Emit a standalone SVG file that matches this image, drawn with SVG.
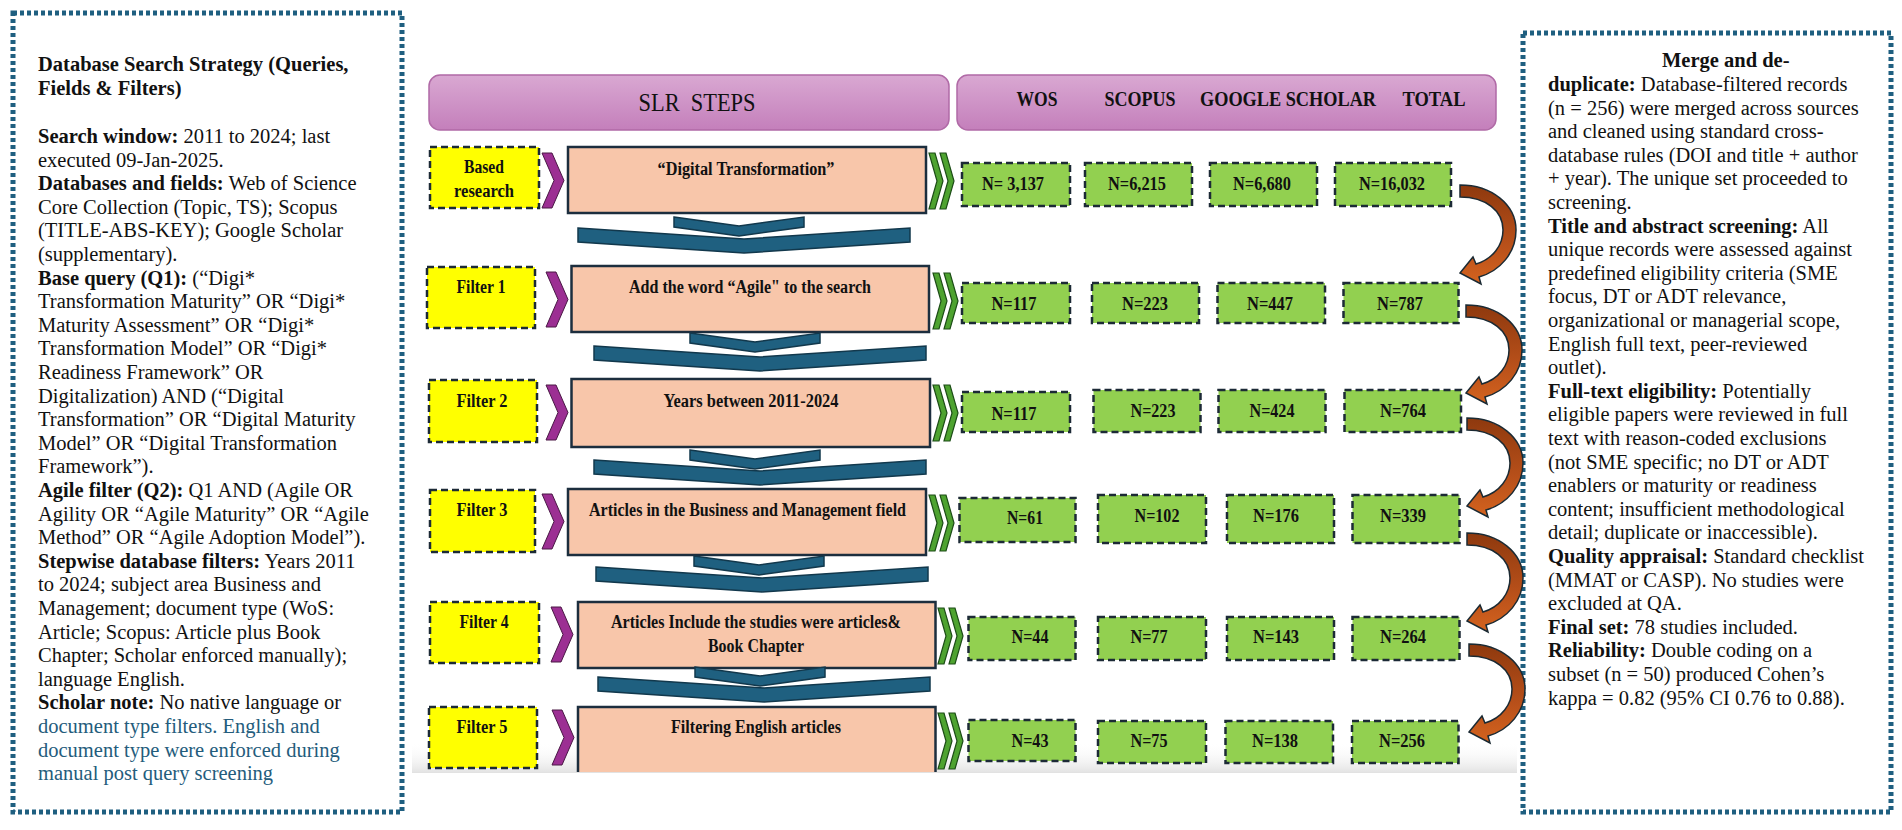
<svg xmlns="http://www.w3.org/2000/svg" xmlns:xlink="http://www.w3.org/1999/xlink" width="1902" height="830" viewBox="0 0 1902 830">
<defs>
<style>
.tx{font-family:"Liberation Serif","Times New Roman",serif;font-size:20.5px;fill:#111;}
.b{font-weight:bold;}
.teal{fill:#245c7c;}
.dot{fill:none;stroke:#1f5f80;stroke-width:5;stroke-dasharray:4 3;}
.hdr{fill:url(#hg);stroke:#b06aa6;stroke-width:1.5;}
.yel{fill:#ffff00;stroke:#1c2a36;stroke-width:2.5;stroke-dasharray:7 4;}
.grn{fill:#92d050;stroke:#1c2a36;stroke-width:2.5;stroke-dasharray:7 4;}
.sal{fill:#f8c6aa;stroke:#1c2e3e;stroke-width:2.5;}
.m{font-family:"Liberation Serif","Times New Roman",serif;font-weight:bold;fill:#111;text-anchor:middle;}
.ms{font-size:18.5px;}
.mn{font-size:19px;}
.mh{font-size:20px;}
.pch{fill:#9c2f93;stroke:#4a1845;stroke-width:1;}
.gch{fill:#4ea330;stroke:#1d4d17;stroke-width:1.2;}
.bch{fill:#1f6080;stroke:#12384c;stroke-width:1.5;}
.oar{fill:url(#og);stroke:#1b2a33;stroke-width:1.5;}
</style>
<linearGradient id="hg" x1="0" y1="0" x2="0" y2="1">
<stop offset="0" stop-color="#d9a8d2"/>
<stop offset="1" stop-color="#c47fbb"/>
</linearGradient>
<linearGradient id="og" x1="0" y1="0" x2="0" y2="1">
<stop offset="0" stop-color="#8e390e"/>
<stop offset="0.6" stop-color="#b8501a"/>
<stop offset="1" stop-color="#d4631e"/>
</linearGradient>
<linearGradient id="gb" x1="0" y1="0" x2="0" y2="1">
<stop offset="0" stop-color="#ffffff" stop-opacity="0"/>
<stop offset="1" stop-color="#e4e4e4"/>
</linearGradient>
<path id="pc" d="M0 0 H10 L22 27.5 L10 55 H0 L12 27.5 Z"/>
<path id="gc" d="M0 0 H6 L14 28 L6 56 H0 L8 28 Z M11 0 H17 L25 28 L17 56 H11 L19 28 Z"/>
<path id="bs" d="M0 0 L65 9 L130 0 L130 10 L65 19 L0 10 Z"/>
<path id="bl" d="M0 0 L166 11 L332 0 L332 14 L166 25 L0 14 Z"/>
<path id="oa" d="M0 0 C32 0 56 20 56 45 C56 68 40 86 19 92 L21 99 L0 88 L13 72 L16 79 C33 74 43 60 43 45 C43 26 26 12 0 12 Z"/>
</defs>
<rect x="0" y="0" width="1902" height="830" fill="#ffffff"/>
<rect x="412" y="742" width="1105" height="30" fill="url(#gb)"/>

<g id="left-panel">
<rect class="dot" x="13" y="13" width="389" height="799"/>
<text class="tx b" x="38" y="71">Database Search Strategy (Queries,</text>
<text class="tx b" x="38" y="94.6">Fields &amp; Filters)</text>
<text class="tx" x="38" y="143"><tspan class="b">Search window:</tspan> 2011 to 2024; last</text>
<text class="tx" x="38" y="166.6">executed 09-Jan-2025.</text>
<text class="tx" x="38" y="190.2"><tspan class="b">Databases and fields:</tspan> Web of Science</text>
<text class="tx" x="38" y="213.8">Core Collection (Topic, TS); Scopus</text>
<text class="tx" x="38" y="237.4">(TITLE-ABS-KEY); Google Scholar</text>
<text class="tx" x="38" y="261">(supplementary).</text>
<text class="tx" x="38" y="284.6"><tspan class="b">Base query (Q1):</tspan> (“Digi*</text>
<text class="tx" x="38" y="308.2">Transformation Maturity” OR “Digi*</text>
<text class="tx" x="38" y="331.8">Maturity Assessment” OR “Digi*</text>
<text class="tx" x="38" y="355.4">Transformation Model” OR “Digi*</text>
<text class="tx" x="38" y="379">Readiness Framework” OR</text>
<text class="tx" x="38" y="402.6">Digitalization) AND (“Digital</text>
<text class="tx" x="38" y="426.2">Transformation” OR “Digital Maturity</text>
<text class="tx" x="38" y="449.8">Model” OR “Digital Transformation</text>
<text class="tx" x="38" y="473.4">Framework”).</text>
<text class="tx" x="38" y="497"><tspan class="b">Agile filter (Q2):</tspan> Q1 AND (Agile OR</text>
<text class="tx" x="38" y="520.6">Agility OR “Agile Maturity” OR “Agile</text>
<text class="tx" x="38" y="544.2">Method” OR “Agile Adoption Model”).</text>
<text class="tx" x="38" y="567.8"><tspan class="b">Stepwise database filters:</tspan> Years 2011</text>
<text class="tx" x="38" y="591.4">to 2024; subject area Business and</text>
<text class="tx" x="38" y="615">Management; document type (WoS:</text>
<text class="tx" x="38" y="638.6">Article; Scopus: Article plus Book</text>
<text class="tx" x="38" y="662.2">Chapter; Scholar enforced manually);</text>
<text class="tx" x="38" y="685.8">language English.</text>
<text class="tx" x="38" y="709.4"><tspan class="b">Scholar note:</tspan> No native language or</text>
<text class="tx teal" x="38" y="733">document type filters. English and</text>
<text class="tx teal" x="38" y="756.6">document type were enforced during</text>
<text class="tx teal" x="38" y="780.2">manual post query screening</text>
</g>

<g id="right-panel">
<rect class="dot" x="1523" y="33" width="368" height="779"/>
<text class="tx b" x="1662" y="67">Merge and de-</text>
<text class="tx" x="1548" y="91"><tspan class="b">duplicate:</tspan> Database-filtered records</text>
<text class="tx" x="1548" y="114.6">(n = 256) were merged across sources</text>
<text class="tx" x="1548" y="138.2">and cleaned using standard cross-</text>
<text class="tx" x="1548" y="161.8">database rules (DOI and title + author</text>
<text class="tx" x="1548" y="185.4">+ year). The unique set proceeded to</text>
<text class="tx" x="1548" y="209">screening.</text>
<text class="tx" x="1548" y="232.6"><tspan class="b">Title and abstract screening:</tspan> All</text>
<text class="tx" x="1548" y="256.2">unique records were assessed against</text>
<text class="tx" x="1548" y="279.8">predefined eligibility criteria (SME</text>
<text class="tx" x="1548" y="303.4">focus, DT or ADT relevance,</text>
<text class="tx" x="1548" y="327">organizational or managerial scope,</text>
<text class="tx" x="1548" y="350.6">English full text, peer-reviewed</text>
<text class="tx" x="1548" y="374.2">outlet).</text>
<text class="tx" x="1548" y="397.8"><tspan class="b">Full-text eligibility:</tspan> Potentially</text>
<text class="tx" x="1548" y="421.4">eligible papers were reviewed in full</text>
<text class="tx" x="1548" y="445">text with reason-coded exclusions</text>
<text class="tx" x="1548" y="468.6">(not SME specific; no DT or ADT</text>
<text class="tx" x="1548" y="492.2">enablers or maturity or readiness</text>
<text class="tx" x="1548" y="515.8">content; insufficient methodological</text>
<text class="tx" x="1548" y="539.4">detail; duplicate or inaccessible).</text>
<text class="tx" x="1548" y="563"><tspan class="b">Quality appraisal:</tspan> Standard checklist</text>
<text class="tx" x="1548" y="586.6">(MMAT or CASP). No studies were</text>
<text class="tx" x="1548" y="610.2">excluded at QA.</text>
<text class="tx" x="1548" y="633.8"><tspan class="b">Final set:</tspan> 78 studies included.</text>
<text class="tx" x="1548" y="657.4"><tspan class="b">Reliability:</tspan> Double coding on a</text>
<text class="tx" x="1548" y="681">subset (n = 50) produced Cohen’s</text>
<text class="tx" x="1548" y="704.6">kappa = 0.82 (95% CI 0.76 to 0.88).</text>
</g>

<g id="header-steps">
<rect class="hdr" x="429" y="75" width="520" height="55" rx="11"/>
<text class="m" x="697" y="111" style="font-weight:normal;font-size:26px;white-space:pre" textLength="117" lengthAdjust="spacingAndGlyphs">SLR  STEPS</text>
</g>
<g id="header-sources">
<rect class="hdr" x="957" y="75" width="539" height="55" rx="11"/>
<text class="m mh" x="1037" y="106" textLength="41" lengthAdjust="spacingAndGlyphs">WOS</text>
<text class="m mh" x="1140" y="106" textLength="71" lengthAdjust="spacingAndGlyphs">SCOPUS</text>
<text class="m mh" x="1288" y="106" textLength="176" lengthAdjust="spacingAndGlyphs">GOOGLE SCHOLAR</text>
<text class="m mh" x="1434" y="106" textLength="63" lengthAdjust="spacingAndGlyphs">TOTAL</text>
</g>

<g id="label-based"><rect class="yel" x="430" y="147" width="109" height="61"/>
<text class="m ms" x="484" y="173" textLength="40" lengthAdjust="spacingAndGlyphs">Based</text>
<text class="m ms" x="484" y="197" textLength="60" lengthAdjust="spacingAndGlyphs">research</text></g>
<g id="label-f1"><rect class="yel" x="427" y="267" width="108" height="61"/>
<text class="m ms" x="481" y="293" textLength="49" lengthAdjust="spacingAndGlyphs">Filter 1</text></g>
<g id="label-f2"><rect class="yel" x="429" y="380" width="108" height="62"/>
<text class="m ms" x="482" y="407" textLength="51" lengthAdjust="spacingAndGlyphs">Filter 2</text></g>
<g id="label-f3"><rect class="yel" x="430" y="490" width="105" height="62"/>
<text class="m ms" x="482" y="516" textLength="51" lengthAdjust="spacingAndGlyphs">Filter 3</text></g>
<g id="label-f4"><rect class="yel" x="430" y="602" width="109" height="61"/>
<text class="m ms" x="484" y="628" textLength="49" lengthAdjust="spacingAndGlyphs">Filter 4</text></g>
<g id="label-f5"><rect class="yel" x="429" y="707" width="108" height="61"/>
<text class="m ms" x="482" y="733" textLength="51" lengthAdjust="spacingAndGlyphs">Filter 5</text></g>

<g id="step-1"><rect class="sal" x="568" y="147" width="358" height="66"/>
<text class="m ms" x="746" y="175" textLength="177" lengthAdjust="spacingAndGlyphs">“Digital Transformation”</text></g>
<g id="step-2"><rect class="sal" x="571.5" y="266" width="357.5" height="66"/>
<text class="m ms" x="750" y="293" textLength="242" lengthAdjust="spacingAndGlyphs">Add the word “Agile" to the search</text></g>
<g id="step-3"><rect class="sal" x="571.5" y="379" width="358.5" height="68"/>
<text class="m ms" x="751" y="407" textLength="175" lengthAdjust="spacingAndGlyphs">Years between 2011-2024</text></g>
<g id="step-4"><rect class="sal" x="568" y="489" width="358" height="66"/>
<text class="m ms" x="747.5" y="516" textLength="317" lengthAdjust="spacingAndGlyphs">Articles in the Business and Management field</text></g>
<g id="step-5"><rect class="sal" x="578" y="602" width="357.5" height="66"/>
<text class="m ms" x="756" y="628" textLength="290" lengthAdjust="spacingAndGlyphs">Articles Include the studies were articles&amp;</text>
<text class="m ms" x="756" y="652" textLength="96" lengthAdjust="spacingAndGlyphs">Book Chapter</text></g>
<g id="step-6"><rect class="sal" x="578" y="707" width="357.5" height="80"/>
<text class="m ms" x="756" y="733" textLength="170" lengthAdjust="spacingAndGlyphs">Filtering English articles</text></g>

<g id="counts-1">
<rect class="grn" x="962" y="163" width="108" height="43"/><text class="m mn" x="1013" y="190" textLength="62" lengthAdjust="spacingAndGlyphs">N= 3,137</text>
<rect class="grn" x="1085" y="163" width="107" height="43"/><text class="m mn" x="1137" y="190" textLength="58" lengthAdjust="spacingAndGlyphs">N=6,215</text>
<rect class="grn" x="1210" y="163" width="107" height="43"/><text class="m mn" x="1262" y="190" textLength="58" lengthAdjust="spacingAndGlyphs">N=6,680</text>
<rect class="grn" x="1335" y="163" width="116" height="43"/><text class="m mn" x="1392" y="190" textLength="66" lengthAdjust="spacingAndGlyphs">N=16,032</text>
</g>
<g id="counts-2">
<rect class="grn" x="962" y="283" width="108" height="40"/><text class="m mn" x="1014" y="310" textLength="45" lengthAdjust="spacingAndGlyphs">N=117</text>
<rect class="grn" x="1092" y="283" width="107" height="40"/><text class="m mn" x="1145" y="310" textLength="46" lengthAdjust="spacingAndGlyphs">N=223</text>
<rect class="grn" x="1217.5" y="283" width="107.5" height="40"/><text class="m mn" x="1270" y="310" textLength="46" lengthAdjust="spacingAndGlyphs">N=447</text>
<rect class="grn" x="1343.5" y="283" width="115" height="40"/><text class="m mn" x="1400" y="310" textLength="46" lengthAdjust="spacingAndGlyphs">N=787</text>
</g>
<g id="counts-3">
<rect class="grn" x="962" y="392" width="108" height="40"/><text class="m mn" x="1014" y="420" textLength="45" lengthAdjust="spacingAndGlyphs">N=117</text>
<rect class="grn" x="1093.5" y="390" width="107" height="42"/><text class="m mn" x="1153" y="417" textLength="45" lengthAdjust="spacingAndGlyphs">N=223</text>
<rect class="grn" x="1218.5" y="390" width="107" height="42"/><text class="m mn" x="1272" y="417" textLength="45" lengthAdjust="spacingAndGlyphs">N=424</text>
<rect class="grn" x="1344.5" y="390" width="116.5" height="42"/><text class="m mn" x="1403" y="417" textLength="46" lengthAdjust="spacingAndGlyphs">N=764</text>
</g>
<g id="counts-4">
<rect class="grn" x="959.5" y="498" width="116" height="44"/><text class="m mn" x="1025" y="524" textLength="36" lengthAdjust="spacingAndGlyphs">N=61</text>
<rect class="grn" x="1098" y="495" width="108" height="48"/><text class="m mn" x="1157" y="522" textLength="45" lengthAdjust="spacingAndGlyphs">N=102</text>
<rect class="grn" x="1227" y="495" width="107" height="48"/><text class="m mn" x="1276" y="522" textLength="46" lengthAdjust="spacingAndGlyphs">N=176</text>
<rect class="grn" x="1352.5" y="495" width="107" height="48"/><text class="m mn" x="1403" y="522" textLength="46" lengthAdjust="spacingAndGlyphs">N=339</text>
</g>
<g id="counts-5">
<rect class="grn" x="968.5" y="617" width="107" height="43"/><text class="m mn" x="1030" y="643" textLength="37" lengthAdjust="spacingAndGlyphs">N=44</text>
<rect class="grn" x="1098" y="617" width="108" height="43"/><text class="m mn" x="1149" y="643" textLength="37" lengthAdjust="spacingAndGlyphs">N=77</text>
<rect class="grn" x="1227" y="617" width="107" height="43"/><text class="m mn" x="1276" y="643" textLength="46" lengthAdjust="spacingAndGlyphs">N=143</text>
<rect class="grn" x="1352.5" y="617" width="107" height="43"/><text class="m mn" x="1403" y="643" textLength="46" lengthAdjust="spacingAndGlyphs">N=264</text>
</g>
<g id="counts-6">
<rect class="grn" x="968.5" y="720" width="107" height="41"/><text class="m mn" x="1030" y="747" textLength="37" lengthAdjust="spacingAndGlyphs">N=43</text>
<rect class="grn" x="1098" y="721" width="108" height="42"/><text class="m mn" x="1149" y="747" textLength="37" lengthAdjust="spacingAndGlyphs">N=75</text>
<rect class="grn" x="1225.5" y="721" width="107.5" height="42"/><text class="m mn" x="1275" y="747" textLength="46" lengthAdjust="spacingAndGlyphs">N=138</text>
<rect class="grn" x="1352" y="721" width="106.5" height="42"/><text class="m mn" x="1402" y="747" textLength="46" lengthAdjust="spacingAndGlyphs">N=256</text>
</g>

<g id="connectors">
<use href="#pc" class="pch" x="542" y="153"/>
<use href="#pc" class="pch" x="546" y="272"/>
<use href="#pc" class="pch" x="546" y="385"/>
<use href="#pc" class="pch" x="542" y="494"/>
<use href="#pc" class="pch" x="551" y="607"/>
<use href="#pc" class="pch" x="552" y="710"/>
<use href="#gc" class="gch" x="929" y="153"/>
<use href="#gc" class="gch" x="933" y="273"/>
<use href="#gc" class="gch" x="933" y="385"/>
<use href="#gc" class="gch" x="929" y="495"/>
<use href="#gc" class="gch" x="938" y="608"/>
<use href="#gc" class="gch" x="938" y="713"/>
<use href="#bs" class="bch" x="674" y="217"/>
<use href="#bl" class="bch" x="578" y="228"/>
<use href="#bs" class="bch" x="690" y="333"/>
<use href="#bl" class="bch" x="594" y="346"/>
<use href="#bs" class="bch" x="690" y="450"/>
<use href="#bl" class="bch" x="594" y="460"/>
<use href="#bs" class="bch" x="694" y="556"/>
<use href="#bl" class="bch" x="596" y="567"/>
<use href="#bs" class="bch" x="695" y="667"/>
<use href="#bl" class="bch" x="598" y="677"/>
<use href="#oa" class="oar" x="1460" y="185"/>
<use href="#oa" class="oar" x="1466" y="305"/>
<use href="#oa" class="oar" x="1467" y="418"/>
<use href="#oa" class="oar" x="1467" y="533"/>
<use href="#oa" class="oar" x="1469" y="644"/>
</g>
<rect x="405" y="772" width="1114" height="58" fill="#ffffff"/>
<line x1="412" y1="772.5" x2="1517" y2="772.5" stroke="#e2e2e2" stroke-width="1"/>
</svg>
